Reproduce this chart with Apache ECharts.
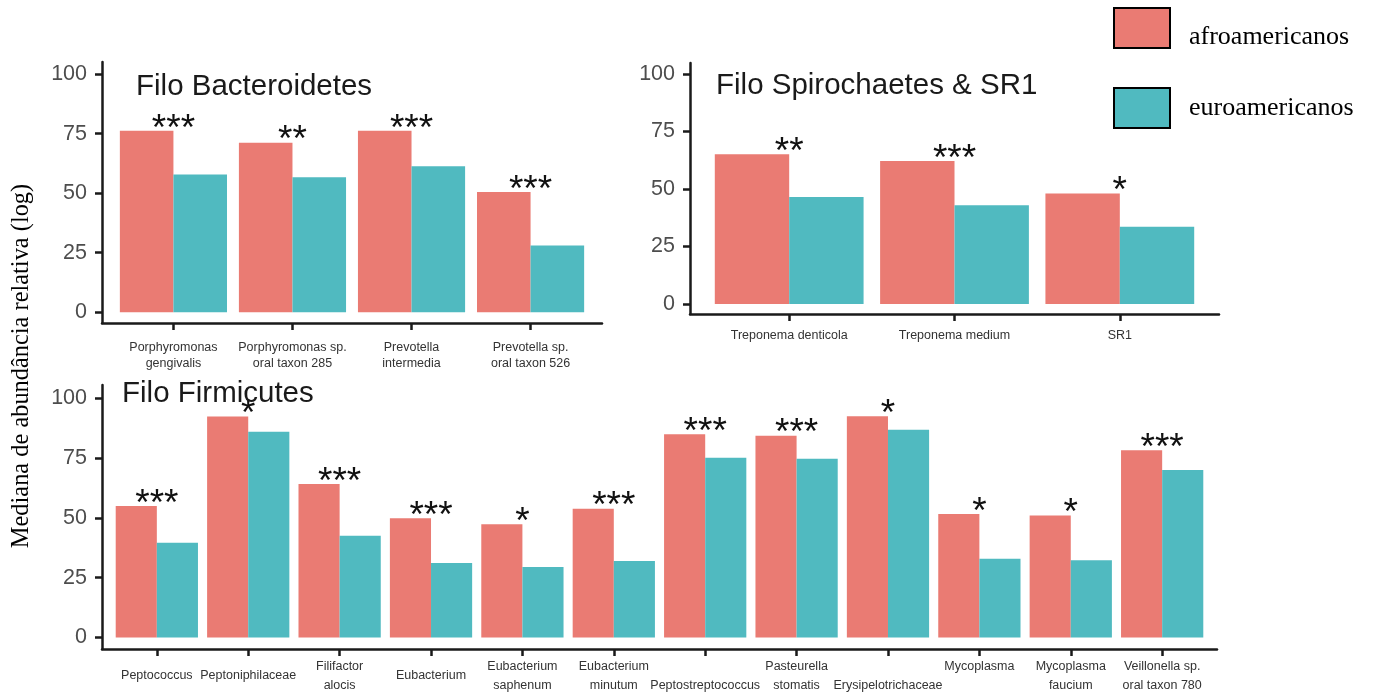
<!DOCTYPE html>
<html>
<head>
<meta charset="utf-8">
<script src="https://cdn.jsdelivr.net/npm/echarts@6/dist/echarts.min.js"></script>
<style>
  html, body { margin: 0; padding: 0; background: #ffffff; }
  #chart { width: 1375px; height: 695px; }
</style>
</head>
<body>
<div id="chart"></div>
<script>
// ---- Filo Bacteroidetes ----
const bacteroidetesTaxa = [
  'Porphyromonas\ngengivalis',
  'Porphyromonas sp.\noral taxon 285',
  'Prevotella\nintermedia',
  'Prevotella sp.\noral taxon 526'
];
const bacteroidetesAfro = [76.2, 71.2, 76.2, 50.5];
const bacteroidetesEuro = [57.9, 56.7, 61.3, 28.0];
const bacteroidetesSig = ['***', '**', '***', '***'];

// ---- Filo Spirochaetes & SR1 ----
const spirochaetesTaxa = ['Treponema denticola', 'Treponema medium', 'SR1'];
const spirochaetesAfro = [65.1, 62.2, 48.1];
const spirochaetesEuro = [46.5, 42.9, 33.6];
const spirochaetesSig = ['**', '***', '*'];

// ---- Filo Firmicutes ----
const firmicutesTaxa = [
  'Peptococcus',
  'Peptoniphilaceae',
  'Filifactor\nalocis',
  'Eubacterium',
  'Eubacterium\nsaphenum',
  'Eubacterium\nminutum',
  '\nPeptostreptococcus',
  'Pasteurella\nstomatis',
  '\nErysipelotrichaceae',
  'Mycoplasma\n',
  'Mycoplasma\nfaucium',
  'Veillonella sp.\noral taxon 780'
];
const firmicutesAfro = [55.0, 92.4, 64.2, 49.9, 47.4, 53.9, 85.0, 84.4, 92.5, 51.7, 51.0, 78.3];
const firmicutesEuro = [39.6, 86.0, 42.6, 31.2, 29.5, 32.0, 75.2, 74.8, 86.9, 32.9, 32.3, 70.1];
const firmicutesSig = ['***', '*', '***', '***', '*', '***', '***', '***', '*', '*', '*', '***'];

const yTicks = [0, 25, 50, 75, 100];
const groupNames = ['afroamericanos', 'euroamericanos'];
const yAxisTitle = 'Mediana de abundância relativa (log)';

const AFRO_COLOR = '#EA7B73';
const EURO_COLOR = '#50BAC0';
const AXIS_COLOR = '#1a1a1a';
const SANS = '"Liberation Sans", Arial, Helvetica, sans-serif';
const SERIF = '"Liberation Serif", "Times New Roman", serif';

const panels = [
  {
    title: 'Filo Bacteroidetes', titlePos: { left: 136, top: 72 },
    taxa: bacteroidetesTaxa, afro: bacteroidetesAfro, euro: bacteroidetesEuro, sig: bacteroidetesSig,
    grid: { left: 102, top: 62, width: 500, height: 261 },
    yMin: -4.5, yMax: 105.1,
    label: { margin: 17, verticalAlign: 'top', lineHeight: 16 }
  },
  {
    title: 'Filo Spirochaetes & SR1', titlePos: { left: 716, top: 71 },
    taxa: spirochaetesTaxa, afro: spirochaetesAfro, euro: spirochaetesEuro, sig: spirochaetesSig,
    grid: { left: 690, top: 63, width: 529, height: 251 },
    yMin: -4.35, yMax: 104.8,
    label: { margin: 14, verticalAlign: 'top', lineHeight: 16 }
  },
  {
    title: 'Filo Firmicutes', titlePos: { left: 122, top: 379 },
    taxa: firmicutesTaxa, afro: firmicutesAfro, euro: firmicutesEuro, sig: firmicutesSig,
    grid: { left: 102, top: 385, width: 1115, height: 264.5 },
    yMin: -4.8, yMax: 105.6,
    label: { margin: 27, verticalAlign: 'middle', lineHeight: 19 }
  }
];

const axisLineStyle = { color: AXIS_COLOR, width: 2.5 };

const option = {
  animation: false,
  backgroundColor: '#ffffff',
  title: panels.map(p => ({
    text: p.title,
    left: p.titlePos.left,
    top: p.titlePos.top,
    padding: 0,
    textStyle: { fontFamily: SANS, fontSize: 29.5, fontWeight: 'normal', color: '#1a1a1a' }
  })),
  legend: {
    orient: 'vertical',
    left: 1113,
    top: 6,
    padding: 0,
    itemWidth: 56,
    itemHeight: 40,
    itemGap: 37,
    icon: 'rect',
    selectedMode: false,
    data: groupNames,
    // the first entry sits a little below the middle of its swatch
    formatter: name => (name === groupNames[0] ? '\n' + name : name),
    itemStyle: { borderColor: '#000000', borderWidth: 2 },
    textStyle: {
      fontFamily: SERIF, fontSize: 26, lineHeight: 18, color: '#000000',
      padding: [0, 0, 0, 14]
    }
  },
  graphic: [{
    type: 'text',
    x: 22,
    y: 366,
    rotation: Math.PI / 2,
    style: {
      text: yAxisTitle,
      fontFamily: SERIF,
      fontSize: 24.4,
      fill: '#000000',
      align: 'center',
      verticalAlign: 'middle'
    }
  }],
  grid: panels.map(p => Object.assign({ containLabel: false }, p.grid)),
  xAxis: panels.map((p, i) => {
    const positions = p.taxa.map((_, k) => k + 1);
    return {
      type: 'value',
      gridIndex: i,
      min: 0.4,
      max: p.taxa.length + 0.6,
      axisLine: { show: true, onZero: false, lineStyle: axisLineStyle },
      axisTick: { show: true, customValues: positions, length: 7, lineStyle: axisLineStyle },
      axisLabel: {
        customValues: positions,
        formatter: v => p.taxa[Math.round(v) - 1] || '',
        margin: p.label.margin,
        verticalAlign: p.label.verticalAlign,
        lineHeight: p.label.lineHeight,
        fontFamily: SANS,
        fontSize: 12.5,
        color: '#333333',
        align: 'center'
      },
      splitLine: { show: false }
    };
  }),
  yAxis: panels.map((p, i) => ({
    type: 'value',
    gridIndex: i,
    min: p.yMin,
    max: p.yMax,
    axisLine: { show: true, onZero: false, lineStyle: axisLineStyle },
    axisTick: { show: true, customValues: yTicks, length: 7, lineStyle: axisLineStyle },
    axisLabel: {
      customValues: yTicks,
      margin: 15,
      fontFamily: SANS,
      fontSize: 21.5,
      color: '#4d4d4d'
    },
    splitLine: { show: false }
  })),
  series: []
};

panels.forEach((p, i) => {
  option.series.push({
    type: 'bar',
    name: groupNames[0],
    xAxisIndex: i,
    yAxisIndex: i,
    barWidth: '45%',
    barGap: '0%',
    itemStyle: { color: AFRO_COLOR },
    label: {
      show: true,
      position: ['100%', 0],
      align: 'center',
      verticalAlign: 'bottom',
      offset: [0, 17],
      formatter: params => p.sig[params.dataIndex],
      fontFamily: SANS,
      fontSize: 37,
      color: '#111111'
    },
    data: p.afro.map((v, k) => [k + 1, v])
  });
  option.series.push({
    type: 'bar',
    name: groupNames[1],
    xAxisIndex: i,
    yAxisIndex: i,
    barWidth: '45%',
    barGap: '0%',
    itemStyle: { color: EURO_COLOR },
    data: p.euro.map((v, k) => [k + 1, v])
  });
});

const chart = echarts.init(document.getElementById('chart'), null, { renderer: 'canvas' });
chart.setOption(option);
</script>
</body>
</html>
